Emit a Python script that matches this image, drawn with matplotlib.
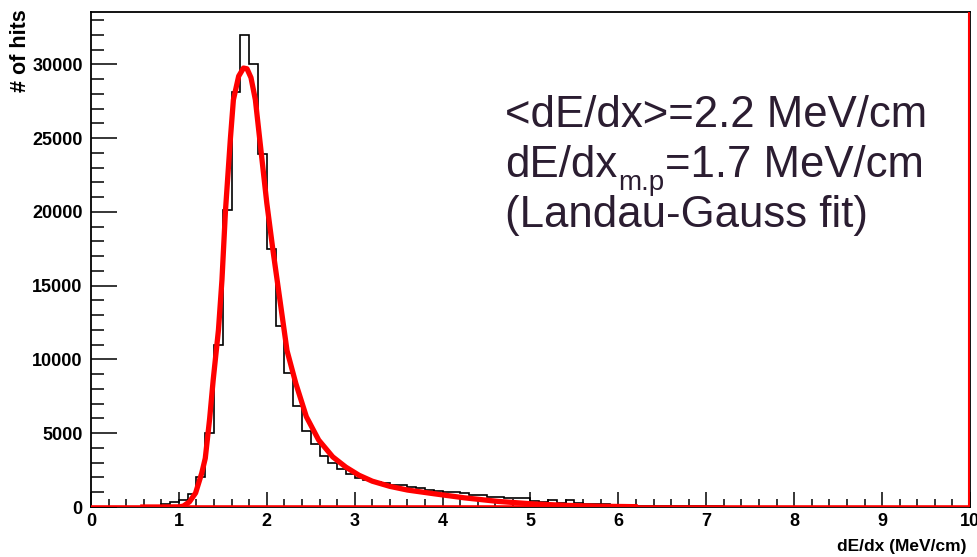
import numpy as np
import matplotlib
matplotlib.use("Agg")
import matplotlib.pyplot as plt
from matplotlib import font_manager as fm
from matplotlib.ticker import MultipleLocator

# ---- data ----
bin_edges = np.round(np.arange(0, 10.0001, 0.1), 1)
hist_counts = [
    0, 0, 0, 0, 0, 0, 20, 40, 200, 360,                      # 0.0 - 0.9
    470, 880, 2000, 5000, 11000, 20100, 28100, 32000, 30000, 23900,   # 1.0 - 1.9
    17500, 12300, 9080, 6860, 5180, 4260, 3460, 2970, 2560, 2250,     # 2.0 - 2.9
    1950, 1830, 1720, 1610, 1520, 1460, 1340, 1290, 1150, 1110,       # 3.0 - 3.9
    1020, 1000, 960, 820, 790, 660, 650, 590, 590, 590,               # 4.0 - 4.9
    380, 330, 470, 300, 470, 280, 230, 200, 170, 150,                 # 5.0 - 5.9
    130, 110, 100, 90, 80, 70, 60, 55, 50, 45,                        # 6.0 - 6.9
    40, 35, 30, 28, 25, 22, 20, 18, 16, 14,                           # 7.0 - 7.9
    12, 11, 10, 9, 8, 7, 6, 5, 5, 4,                                  # 8.0 - 8.9
    4, 3, 3, 3, 2, 2, 2, 2, 1, 1,                                     # 9.0 - 9.9
]

fit_x = [0.56, 0.8, 1.0, 1.05, 1.12, 1.19, 1.26, 1.30, 1.35, 1.39, 1.45, 1.49,
         1.53, 1.585, 1.62, 1.68, 1.735, 1.775, 1.82, 1.87, 1.92, 2.0, 2.07,
         2.15, 2.23, 2.33, 2.45, 2.59, 2.75, 2.9, 3.05, 3.2, 3.4, 3.6, 3.9,
         4.25, 4.63, 5.0, 5.4, 5.8, 6.22]
fit_y = [0, 0, 10, 60, 350, 950, 2300, 3300, 6000, 8600, 12000, 15400,
         20100, 24900, 27600, 29200, 29750, 29700, 29100, 27600, 24900, 20600,
         17400, 14000, 10600, 8380, 6120, 4540, 3400, 2700, 2150, 1750, 1400,
         1150, 900, 620, 380, 220, 110, 50, 20]

x_ticks = list(range(0, 11))
y_ticks = [0, 5000, 10000, 15000, 20000, 25000, 30000]

line1 = "<dE/dx>=2.2 MeV/cm"
line2_main = "dE/dx"
line2_sub = "m.p"
line2_rest = "=1.7 MeV/cm"
line3 = "(Landau-Gauss fit)"

# ---- fonts ----
names = {f.name for f in fm.fontManager.ttflist}
tick_font = "Liberation Sans Narrow" if "Liberation Sans Narrow" in names else "Liberation Sans"
plt.rcParams["font.family"] = ["Liberation Sans", "DejaVu Sans"]

W, H = 978, 557
fig = plt.figure(figsize=(W / 100, H / 100), dpi=100)
L, R, T, B = 91, 970, 12, 507
ax = fig.add_axes([L / W, 1 - B / H, (R - L) / W, (B - T) / H])

ax.stairs(hist_counts, bin_edges, color="black", linewidth=1.2, zorder=2)
ax.axhline(0, color="#ff0000", linewidth=2.6, zorder=3)
ax.plot(fit_x, fit_y, color="#ff0000", linewidth=3.8, zorder=4,
        solid_capstyle="butt", solid_joinstyle="round")
ax.axvline(9.985, color="#ff0000", linewidth=1.5, zorder=3)

ax.set_xlim(0, 10)
ax.set_ylim(0, 33550)

ax.set_xticks(x_ticks)
ax.set_yticks(y_ticks)
ax.xaxis.set_minor_locator(MultipleLocator(0.2))
ax.yaxis.set_minor_locator(MultipleLocator(1000))
ax.tick_params(axis="y", which="major", direction="in", length=19, width=1.1, pad=6)
ax.tick_params(axis="y", which="minor", direction="in", length=9.5, width=1.1)
ax.tick_params(axis="x", which="major", direction="in", length=11, width=1.1, pad=4)
ax.tick_params(axis="x", which="minor", direction="in", length=5.5, width=1.1)

for lab in ax.get_xticklabels() + ax.get_yticklabels():
    lab.set_fontfamily(tick_font)
    lab.set_fontweight("bold")
    lab.set_fontsize(13)

for sp in ax.spines.values():
    sp.set_linewidth(1.3)
    sp.set_color("black")

fig.text(967 / W, 1 - 547 / H, "dE/dx (MeV/cm)", ha="right", va="center",
         fontfamily=tick_font, fontweight="bold", fontsize=12.5)
fig.text(21 / W, 1 - 9 / H, "# of hits", ha="center", va="top", rotation=90,
         fontfamily=tick_font, fontweight="bold", fontsize=15.5)

txt_color = "#2b1d31"
tkw = dict(color=txt_color, fontfamily="Liberation Sans", va="baseline", ha="left")
x0 = 505 / W
fig.text(x0, 1 - 127 / H, line1, fontsize=31.5, **tkw)
fig.text(x0, 1 - 227 / H, line3, fontsize=31.5, **tkw)

t_main = fig.text(x0, 1 - 177 / H, line2_main, fontsize=31.5, **tkw)
fig.canvas.draw()
r = fig.canvas.get_renderer()
bb = t_main.get_window_extent(renderer=r)
x_sub = bb.x1 / W + 1 / W
t_sub = fig.text(x_sub, 1 - 190 / H, line2_sub, fontsize=20, **tkw)
bb2 = t_sub.get_window_extent(renderer=r)
fig.text(bb2.x1 / W + 1 / W, 1 - 177 / H, line2_rest, fontsize=31.5, **tkw)

fig.savefig("out.png", dpi=100)
